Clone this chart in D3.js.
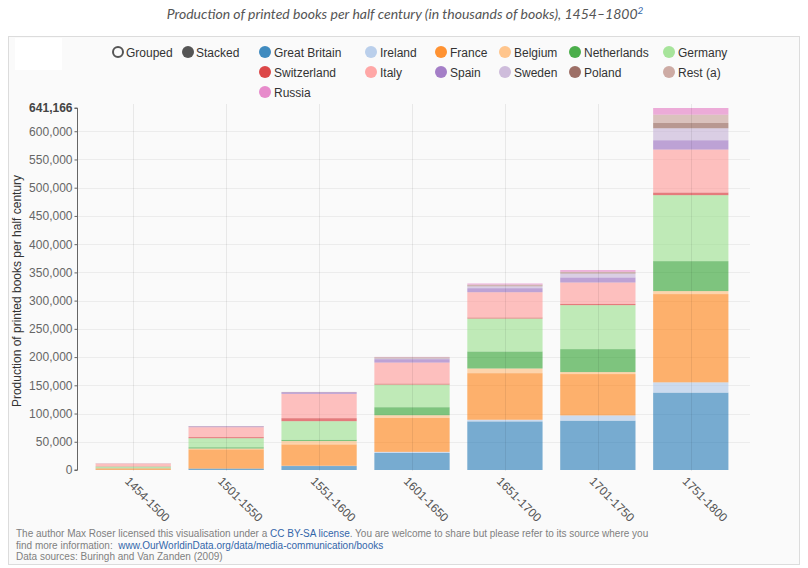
<!DOCTYPE html>
<html>
<head>
<meta charset="utf-8">
<script src="https://cdn.jsdelivr.net/npm/d3@7"></script>
<style>
  html, body { margin: 0; padding: 0; background: #ffffff; }
  svg { display: block; }
</style>
</head>
<body>
<svg id="chart" width="808" height="568"></svg>
<script>
// ---------- data ----------
const categories = ["1454-1500", "1501-1550", "1551-1600", "1601-1650", "1651-1700", "1701-1750", "1751-1800"];
const countries = ["Great Britain", "Ireland", "France", "Belgium", "Netherlands", "Germany",
                   "Switzerland", "Italy", "Spain", "Sweden", "Poland", "Rest (a)", "Russia"];
const greatBritain = [200, 2500, 7000, 30100, 86000, 87300, 136966];
const ireland      = [0, 0, 500, 2000, 3000, 9400, 18300];
const france       = [2500, 34000, 37800, 60200, 82500, 73200, 156300];
const belgium      = [500, 1500, 5900, 4700, 8300, 3500, 5300];
const netherlands  = [1000, 2300, 2300, 14200, 30100, 40700, 53100];
const germany      = [2000, 16000, 33000, 40100, 58400, 77900, 116800];
const switzerland  = [500, 2000, 5300, 1800, 1800, 2300, 4700];
const italy        = [4800, 17500, 43000, 37200, 44800, 37800, 76100];
const spain        = [300, 1500, 3000, 6000, 7100, 8900, 16500];
const sweden       = [0, 100, 0, 1500, 3500, 7100, 21200];
const poland       = [0, 300, 200, 1000, 1500, 1800, 9400];
const restA        = [200, 200, 300, 1000, 1500, 1200, 14700];
const russia       = [0, 0, 0, 500, 1800, 3000, 11800];
const seriesValues = [greatBritain, ireland, france, belgium, netherlands, germany,
                      switzerland, italy, spain, sweden, poland, restA, russia];
const colors = ["#1f77b4", "#aec7e8", "#ff7f0e", "#ffbb78", "#2ca02c", "#98df8a",
                "#d62728", "#ff9896", "#9467bd", "#c5b0d5", "#8c564b", "#c49c94", "#e377c2"];
const yTickStep = 50000;
const titleText = "Production of printed books per half century (in thousands of books), 1454\u20131800";
const yAxisTitle = "Production of printed books per half century";

// ---------- build table ----------
const table = categories.map((c, i) => {
  const row = { period: c };
  countries.forEach((k, j) => { row[k] = seriesValues[j][i]; });
  return row;
});
const stacked = d3.stack().keys(countries)(table);
const total = d3.max(table, r => d3.sum(countries, k => r[k]));

const svg = d3.select("#chart");
const fontArial = "'Liberation Sans', Arial, sans-serif";

// frame
svg.append("rect").attr("x", 8.5).attr("y", 36.5).attr("width", 791).attr("height", 528)
  .attr("fill", "#fafafa").attr("stroke", "#dcdcdc");
svg.append("rect").attr("x", 15).attr("y", 38).attr("width", 47).attr("height", 32).attr("fill", "#ffffff");

// title
const title = svg.append("text").attr("x", 405).attr("y", 19).attr("text-anchor", "middle")
  .attr("font-family", "Lato, 'Open Sans', sans-serif").attr("font-style", "italic")
  .attr("font-size", 14).attr("fill", "#555");
title.append("tspan").text(titleText);
title.append("tspan").attr("dy", -5).attr("font-size", 10).attr("fill", "#3366aa").text("2");

// scales
const x = d3.scaleBand().domain(categories).range([77, 747]).paddingInner(0.19).paddingOuter(0.2);
const y = d3.scaleLinear().domain([0, total]).range([470, 108]);

const tickVals = d3.range(0, total, yTickStep);

// gridlines
svg.append("g").selectAll("line").data(tickVals.slice(1)).join("line")
  .attr("x1", 77).attr("x2", 750).attr("y1", d => Math.round(y(d)) + 0.5).attr("y2", d => Math.round(y(d)) + 0.5)
  .attr("stroke", "#ececec");

// bars
const g = svg.append("g");
g.selectAll("g").data(stacked).join("g")
  .attr("fill", (d, i) => colors[i]).attr("fill-opacity", 0.6)
  .selectAll("rect").data(d => d).join("rect")
  .attr("x", d => x(d.data.period))
  .attr("width", x.bandwidth())
  .attr("y", d => y(d[1]))
  .attr("height", d => Math.max(0, y(d[0]) - y(d[1])));

// vertical grid through band centers
svg.append("g").selectAll("line").data(categories).join("line")
  .attr("x1", d => Math.round(x(d) + x.bandwidth() / 2) + 0.5)
  .attr("x2", d => Math.round(x(d) + x.bandwidth() / 2) + 0.5)
  .attr("y1", 104).attr("y2", 471)
  .attr("stroke", "#000").attr("stroke-opacity", 0.07);

// y axis
const yAxis = d3.axisLeft(y).tickValues(tickVals.concat([total]))
  .tickSize(3).tickPadding(2).tickFormat(d3.format(","));
const ya = svg.append("g").attr("transform", "translate(77.5,0)").call(yAxis);
ya.select(".domain").attr("stroke", "#666").attr("d", `M-3,${y(total)}H0V${y(0)}H-3`);
ya.selectAll(".tick line").attr("stroke", "#666");
ya.selectAll(".tick text").attr("font-family", fontArial).attr("font-size", 12).attr("fill", "#666");
ya.selectAll(".tick").filter(d => d === total).select("text")
  .attr("font-weight", "bold").attr("fill", "#444");

svg.append("text").attr("transform", "translate(21,291) rotate(-90)")
  .attr("text-anchor", "middle").attr("font-family", fontArial).attr("font-size", 12)
  .attr("fill", "#333").text(yAxisTitle);

// x labels
svg.append("g").selectAll("text").data(categories).join("text")
  .attr("transform", d => `translate(${x(d) + x.bandwidth() / 2 - 9},482) rotate(45)`)
  .attr("font-family", fontArial).attr("font-size", 12).attr("fill", "#555")
  .text(d => d);

// legend
const legendCols = [265, 371, 441, 505, 575, 669];
const legendRows = [52, 72, 92];
const lg = svg.append("g").attr("font-family", fontArial).attr("font-size", 12).attr("fill", "#333");
lg.append("circle").attr("cx", 118).attr("cy", 52).attr("r", 5).attr("fill", "none")
  .attr("stroke", "#555").attr("stroke-width", 2);
lg.append("text").attr("x", 126).attr("y", 56.5).text("Grouped");
lg.append("circle").attr("cx", 188).attr("cy", 52).attr("r", 6).attr("fill", "#555");
lg.append("text").attr("x", 196).attr("y", 56.5).text("Stacked");
countries.forEach((k, i) => {
  const cx = legendCols[i % 6], cy = legendRows[Math.floor(i / 6)];
  lg.append("circle").attr("cx", cx).attr("cy", cy).attr("r", 6).attr("fill", colors[i]).attr("fill-opacity", 0.85);
  lg.append("text").attr("x", cx + 9).attr("y", cy + 4.5).text(k);
});

// footer
const ft = svg.append("g").attr("font-family", fontArial).attr("font-size", 10).attr("fill", "#808080");
const l1 = ft.append("text").attr("x", 16).attr("y", 537);
l1.append("tspan").text("The author Max Roser licensed this visualisation under a ");
l1.append("tspan").attr("fill", "#3366aa").text("CC BY-SA license");
l1.append("tspan").text(". You are welcome to share but please refer to its source where you");
const l2 = ft.append("text").attr("x", 16).attr("y", 548.5);
l2.append("tspan").text("find more information:\u00a0\u00a0");
l2.append("tspan").attr("fill", "#3366aa").text("www.OurWorldinData.org/data/media-communication/books");
ft.append("text").attr("x", 16).attr("y", 560).text("Data sources: Buringh and Van Zanden (2009)");
</script>
</body>
</html>
